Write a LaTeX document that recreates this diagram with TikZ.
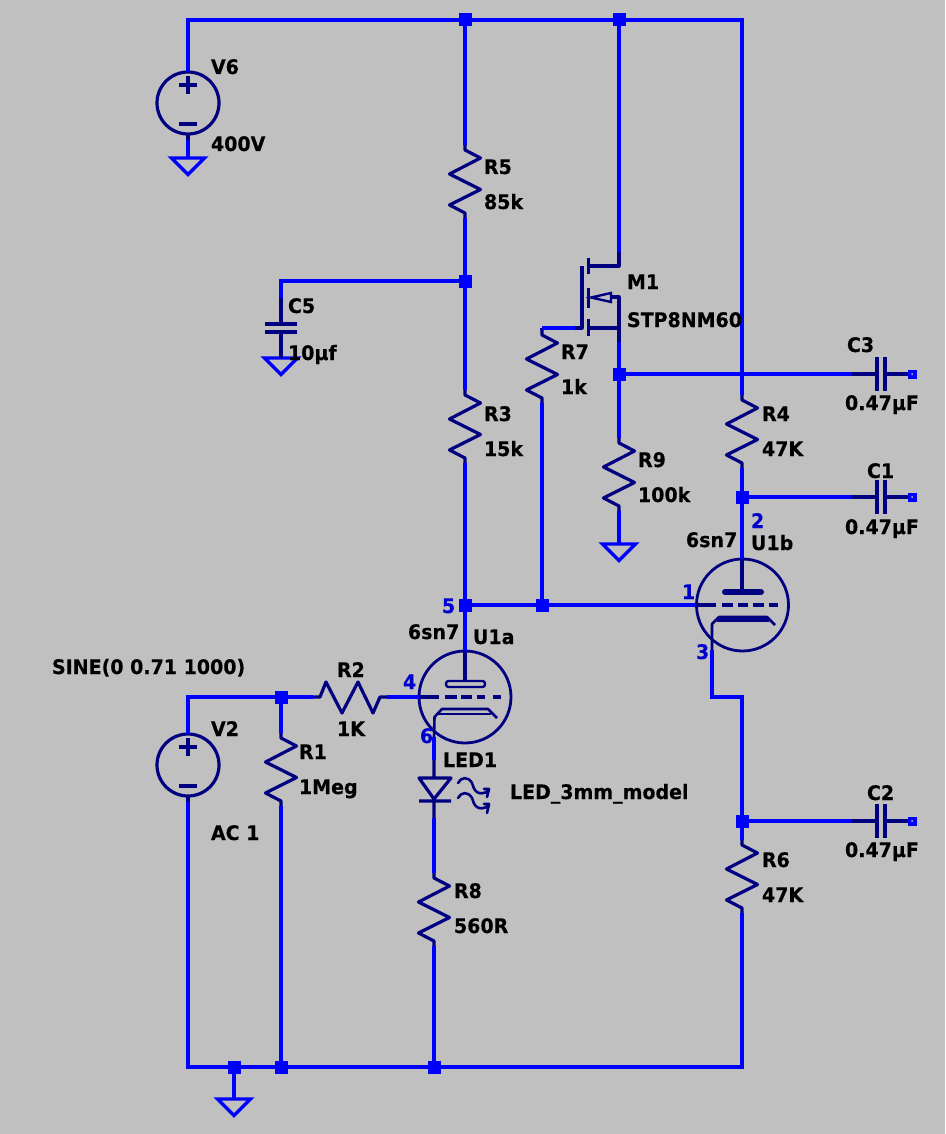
\documentclass[tikz,border=0pt]{standalone}
\usepackage{fontspec}
\setmainfont{DejaVu Sans}[BoldFont={DejaVu Sans Bold},BoldFeatures={FakeStretch=0.95,FakeBold=0.25}]
\definecolor{wireblue}{RGB}{0,0,255}
\definecolor{symnavy}{RGB}{0,0,128}
\definecolor{pinblue}{RGB}{0,0,205}
\definecolor{sheet}{RGB}{192,192,192}
\tikzset{
  wire/.style={draw=wireblue,line width=3.4pt,line join=miter},
  sym/.style={draw=symnavy,line width=3.2pt,line join=round},
  dot/.style={fill=wireblue,minimum size=13pt,inner sep=0pt,outer sep=0pt,draw=none},
  lab/.style={anchor=west,inner sep=0pt,outer sep=0pt,text height=14pt,text depth=0pt,font=\fontsize{20}{20}\selectfont\bfseries,text=black},
  pinlab/.style={lab,text=pinblue},
  term/.style={fill=wireblue,minimum size=9pt,inner sep=0pt,outer sep=0pt,draw=none},
}
% vertical resistor: name, x, top pin y
\newcommand{\vres}[3]{%
  \coordinate (#1-t) at (#2,#3);\coordinate (#1-b) at (#2,#3+73);
  \draw[sym,line cap=butt] (#1-t) -- ++(0,5) -- ++(15.5,8) -- ++(-31,16) -- ++(31,15.5) -- ++(-31,15.5) -- ++(15.5,8) -- ++(0,5);}
% capacitor to output terminal: name, y
\newcommand{\capout}[2]{%
  \coordinate (#1-l) at (852,#2);
  \node[term] (#1-o) at (912,#2) {};
  \draw[sym,line cap=butt] (#1-l) -- (877,#2) (877,#2-17) -- (877,#2+17) (885,#2-17) -- (885,#2+17) (885,#2) -- (#1-o);
  \fill[sheet] (912,#2) circle (1pt);}
% ground: name, x, y
\newcommand{\gnd}[3]{%
  \coordinate (#1) at (#2,#3);
  \draw[wire] (#2-16.5,#3) -- (#2+16.5,#3) -- (#2,#3+16.5) -- cycle;}
% voltage source: name, x, y centre
\newcommand{\vsrc}[3]{%
  \coordinate (#1-t) at (#2,#3-31);\coordinate (#1-b) at (#2,#3+37);
  \draw[sym] (#2,#3) circle (31);
  \draw[sym,line cap=butt] (#2,#3+31) -- (#1-b);
  \draw[sym,line cap=butt] (#2-9,#3-18) -- (#2+9,#3-18) (#2,#3-27) -- (#2,#3-9) (#2-9,#3+21) -- (#2+9,#3+21);}
\begin{document}
\begin{tikzpicture}[x=1pt,y=-1pt]
\useasboundingbox (0,0) rectangle (945,1134);
\fill[sheet] (0,0) rectangle (945,1134);

% junctions
\node[dot] (jtopa) at (465,20) {};
\node[dot] (jtopb) at (619,20) {};
\node[dot] (jc5) at (465,281) {};
\node[dot] (jsrc) at (619,374) {};
\node[dot] (jr4) at (742,497) {};
\node[dot] (jpl) at (465,605) {};
\node[dot] (jr7) at (542,605) {};
\node[dot] (jin) at (281,697) {};
\node[dot] (jc2) at (742,821) {};
\node[dot] (jg1) at (234,1067) {};
\node[dot] (jg2) at (281,1067) {};
\node[dot] (jg3) at (434,1067) {};
\coordinate (tl) at (188,20);
\coordinate (tr) at (742,20);
\coordinate (bl) at (188,1067);
\coordinate (br) at (742,1067);

% symbols' anchors
\vsrc{vsix}{188}{103}
\vsrc{vtwo}{188}{765}
\vres{rfive}{465}{145}
\vres{rthree}{465}{390}
\vres{rseven}{542}{330}
\vres{rfour}{742}{395}
\vres{rnine}{619}{438}
\vres{rsix}{742}{840}
\vres{reight}{434}{873}
\vres{rone}{281}{733}
\gnd{gsix}{188}{158}
\gnd{gfive}{281}{358}
\gnd{gnine}{619}{544}
\gnd{gbot}{234}{1099}
\capout{cthree}{374}
\capout{cone}{497}
\capout{ctwo}{821}

% R2 horizontal
\coordinate (rtwo-l) at (313,697);
\coordinate (rtwo-r) at (387,697);
\draw[sym,line cap=butt] (rtwo-l) -- ++(7,0) -- ++(6,-15) -- ++(16,31) -- ++(16,-31) -- ++(15,31) -- ++(7,-16) -- ++(7,0);

% C5
\coordinate (cf-t) at (281,298);
\coordinate (cf-b) at (281,358);
\draw[sym,line cap=butt] (cf-t) -- (281,324) (265,324) -- (297,324) (265,332) -- (297,332) (281,332) -- (cf-b);
\coordinate (cf-w) at (281,281);

% tube U1a
\draw[sym,line width=2.8pt] (465,697) circle (46);
\coordinate (ua-p) at (465,651);
\coordinate (ua-g) at (419,697);
\coordinate (ua-k) at (434,737);
\draw[sym,line cap=butt] (ua-p) -- (465,682);
\draw[sym,line width=2.4pt,rounded corners=2.5pt] (446,681) rectangle (485,687);
\draw[sym,line cap=butt] (ua-g) -- (439,697) (445,697) -- (457,697) (461,697) -- (472,697) (477,697) -- (485,697) (493,697) -- (501,697);
\draw[sym,line width=2.6pt] (ua-k) -- (434.5,717) -- (442,709) -- (488,709) -- (497,718);
\draw[sym,line width=2.4pt,line cap=butt] (438,714) -- (491,714);

% tube U1b
\draw[sym,line width=2.8pt] (742.5,605) circle (46);
\coordinate (ub-p) at (742,559);
\coordinate (ub-g) at (696,605);
\coordinate (ub-k) at (712,650);
\draw[sym,line cap=butt] (ub-p) -- (742,592);
\draw[symnavy,line width=6pt,line cap=round] (725,592) -- (761,592);
\draw[sym,line cap=butt] (ub-g) -- (716,605) (722,605) -- (733,605) (738,605) -- (748,605) (753,605) -- (764,605) (769,605) -- (778,605);
\draw[sym,line width=2.6pt] (ub-k) -- (712,624) -- (719,617) -- (767,617) -- (775,625);
\draw[symnavy,line width=5pt] (717,619) -- (769,619);

% MOSFET
\coordinate (m-d) at (619,252);
\coordinate (m-s) at (619,342);
\coordinate (m-g) at (575,328);
\draw[sym,line cap=butt] (m-d) -- (619,266) -- (588,266);
\draw[sym,line cap=butt] (588.5,258) -- (588.5,274) (588.5,288) -- (588.5,308) (588.5,319) -- (588.5,336);
\draw[sym,line cap=butt] (582,266) -- (582,328) -- (m-g);
\draw[sym,line cap=butt] (588,328) -- (619,328);
\draw[sym,line cap=butt] (m-s) -- (619,297) -- (611,297);
\draw[sym,line width=2.4pt,line join=miter] (591,297.5) -- (611,293) -- (611,302) -- cycle;

% LED
\coordinate (d-t) at (434,760);
\coordinate (d-b) at (434,818);
\draw[sym,line cap=butt] (d-t) -- (434,778) (419,778) -- (451,778) -- (434,799) -- cycle (419,801) -- (451,801) (434,799) -- (d-b);
\draw[sym,line width=2.6pt,line cap=round]
  (458,783) .. controls (461,777) and (468,776) .. (472,783) .. controls (474,790) and (477,797) .. (489,791)
  (484,789) -- (489,789) -- (487,797);
\draw[sym,line width=2.6pt,line cap=round]
  (458,798) .. controls (461,792) and (468,791) .. (472,798) .. controls (474,805) and (477,812) .. (489,806)
  (484,804) -- (489,804) -- (487,813);

% wires
\draw[wire] (vsix-t) -- (tl) -- (jtopa) -- (jtopb) -- (tr) -- (rfour-t);
\draw[wire] (vsix-b) -- (gsix);
\draw[wire] (jtopa) -- (rfive-t);
\draw[wire] (rfive-b) -- (jc5) -- (rthree-t);
\draw[wire] (jc5) -- (cf-w) -- (cf-t);
\draw[wire] (rthree-b) -- (jpl) -- (ua-p);
\draw[wire] (jpl) -- (jr7) -- (ub-g);
\draw[wire] (jr7) -- (rseven-b);
\draw[sym,line cap=butt] (rseven-t) -- (542,328);
\draw[wire] (542,328) -- (m-g);
\draw[wire] (jtopb) -- (m-d);
\draw[wire] (m-s) -- (jsrc) -- (rnine-t);
\draw[wire] (jsrc) -- (cthree-l);
\draw[wire] (rnine-b) -- (gnine);
\draw[wire] (rfour-b) -- (jr4) -- (ub-p);
\draw[wire] (jr4) -- (cone-l);
\draw[wire] (ub-k) -- (712,697) -- (742,697) -- (jc2) -- (rsix-t);
\draw[wire] (jc2) -- (ctwo-l);
\draw[wire] (rsix-b) -- (br) -- (jg3) -- (jg2) -- (jg1) -- (bl) -- (vtwo-b);
\draw[wire] (vtwo-t) -- (188,697) -- (jin) -- (rtwo-l);
\draw[wire] (rtwo-r) -- (ua-g);
\draw[wire] (jin) -- (rone-t);
\draw[wire] (rone-b) -- (jg2);
\draw[wire] (jg1) -- (gbot);
\draw[wire] (ua-k) -- (d-t);
\draw[wire] (d-b) -- (reight-t);
\draw[wire] (reight-b) -- (jg3);

% labels
\node[lab] (l1) at (211,67) {V6};
\node[lab] (l2) at (211,144) {400V};
\node[lab] (l3) at (484,167) {R5};
\node[lab] (l4) at (484,202) {85k};
\node[lab] (l5) at (288,306) {C5};
\node[lab] (l6) at (288,353) {10µf};
\node[lab] (l7) at (484,414) {R3};
\node[lab] (l8) at (484,449) {15k};
\node[lab] (l9) at (627,282) {M1};
\node[lab] (l10) at (627,320) {STP8NM60};
\node[lab] (l11) at (561,352) {R7};
\node[lab] (l12) at (561,387) {1k};
\node[lab] (l13) at (762,414) {R4};
\node[lab] (l14) at (762,449) {47K};
\node[lab] (l15) at (847,345) {C3};
\node[lab] (l16) at (845,403) {0.47µF};
\node[lab] (l17) at (638,460) {R9};
\node[lab] (l18) at (638,495) {100k};
\node[lab] (l19) at (867,471) {C1};
\node[lab] (l20) at (845,527) {0.47µF};
\node[pinlab] (l21) at (751,521) {2};
\node[lab] (l22) at (686,540) {6sn7};
\node[lab] (l23) at (751,543) {U1b};
\node[pinlab] (l24) at (682,592) {1};
\node[pinlab] (l25) at (696,652) {3};
\node[pinlab] (l26) at (442,606) {5};
\node[lab] (l27) at (408,632) {6sn7};
\node[lab] (l28) at (473,637) {U1a};
\node[pinlab] (l29) at (403,682) {4};
\node[lab] (l30) at (52,667) {SINE(0 0.71 1000)};
\node[lab] (l31) at (337,670) {R2};
\node[lab] (l32) at (337,729) {1K};
\node[lab] (l33) at (211,729) {V2};
\node[lab] (l34) at (299,752) {R1};
\node[lab] (l35) at (299,787) {1Meg};
\node[pinlab] (l36) at (420,736) {6};
\node[lab] (l37) at (443,760) {LED1};
\node[lab] (l38) at (510,792) {LED\_3mm\_model};
\node[lab] (l39) at (211,833) {AC 1};
\node[lab] (l40) at (454,891) {R8};
\node[lab] (l41) at (454,926) {560R};
\node[lab] (l42) at (867,793) {C2};
\node[lab] (l43) at (845,850) {0.47µF};
\node[lab] (l44) at (762,860) {R6};
\node[lab] (l45) at (762,895) {47K};
\end{tikzpicture}
\end{document}
